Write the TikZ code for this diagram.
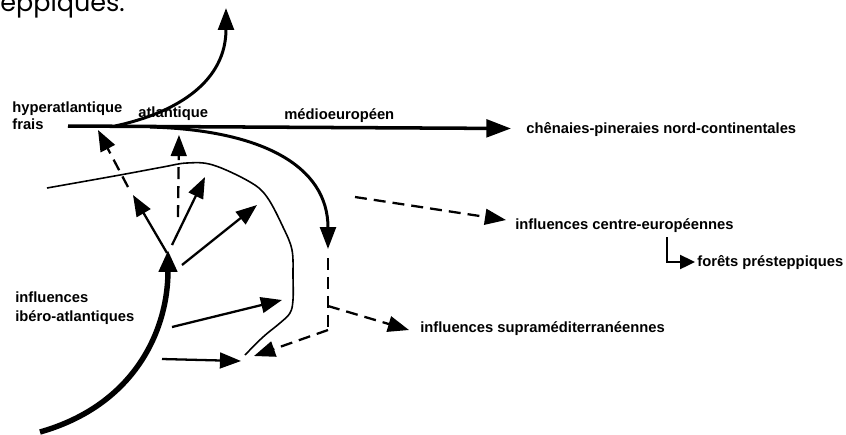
\documentclass[tikz,border=0pt]{standalone}
\usepackage{fontspec}
\setmainfont{Liberation Sans}
\newfontfamily\pagefont{Poppins}
\usetikzlibrary{arrows.meta}
\tikzset{
  lbl/.style      = {font=\fontsize{8.4}{9.6}\selectfont\bfseries, inner sep=0pt,
                     anchor=base west, align=left},
  mainflow/.style = {-{Triangle[length=14pt,width=10pt]}, line width=2pt},
  curvearr/.style = {-{Triangle[length=12.5pt,width=9pt]}, line width=1.7pt},
  iberoarr/.style = {-{Triangle[length=12.5pt,width=10pt]}, line width=3.1pt},
  pusharr/.style  = {-{Triangle[length=12pt,width=9pt]}, line width=1.3pt},
  dasharr/.style  = {pusharr, dash pattern=on 6.8pt off 4pt},
  dashline/.style = {line width=1.3pt, dash pattern=on 6.8pt off 4pt},
  coast/.style    = {line width=0.9pt},
}

\begin{document}
\begin{tikzpicture}[x=0.02cm, y=-0.02cm]
    \useasboundingbox (0,0) rectangle (846,434);

    % cut line of the page text above
    \node[inner sep=0pt, anchor=base west, font=\pagefont\fontsize{14.5}{15}\selectfont]
      (page) at (0,11) {eppiques.};

    % labels (base = last line)
    \node[lbl] (hyper)  at (12,129)  {hyperatlantique\\frais};
    \node[lbl] (atl)    at (138,117) {atlantique};
    \node[lbl] (medio)  at (284,119) {médioeuropéen};
    \node[lbl] (chen)   at (526,133) {chênaies-pineraies nord-continentales};
    \node[lbl] (centre) at (515,229) {influences centre-européennes};
    \node[lbl] (forets) at (697,266) {forêts présteppiques};
    \node[lbl] (supra)  at (420,332) {influences supraméditerranéennes};
    \node[lbl] (ibero)  at (15,321)  {influences\\[1.2pt]ibéro-atlantiques};

    % end points
    \coordinate (hs) at (68,126);   \coordinate (he) at (511,128.5);
    \coordinate (us) at (115,126);  \coordinate (ue) at (226,8);
    \coordinate (ds) at (150,127);  \coordinate (de) at (328,249);
    \coordinate (is) at (40,432);   \coordinate (ie) at (168,250);
    \coordinate (o1) at (167,253);  \coordinate (t1) at (133,195);
    \coordinate (o2) at (172,245);  \coordinate (t2) at (205,177);
    \coordinate (o3) at (182,265);  \coordinate (t3) at (257,205);
    \coordinate (o4) at (172,327);  \coordinate (t4) at (282,300);
    \coordinate (o5) at (162,359);  \coordinate (t5) at (241,361);
    \coordinate (p1) at (128,187);  \coordinate (q1) at (98,130);
    \coordinate (p2) at (178,217);  \coordinate (q2) at (179,135);
    \coordinate (p3) at (355,197);  \coordinate (q3) at (506,220);
    \coordinate (vt) at (328,258);  \coordinate (vk) at (328,306);
    \coordinate (vb) at (328,330);
    \coordinate (q4) at (409,330);  \coordinate (q5) at (254,356);
    \coordinate (ks) at (667,237);  \coordinate (ke) at (695,262);

    % coast line
    \draw[coast] plot[smooth, tension=0.6] coordinates {(47,188) (120,175) (163,167)
      (187,163) (213,165) (250,182) (267,197) (283,227) (292,250) (293,277)
      (293,300) (290,313) (280,323) (263,337) (245,355)};

    % main flows
    \draw[mainflow] (hs) -- (he);
    \draw[curvearr] (us) .. controls (180,112) and (226,80) .. (ue);
    \draw[curvearr] (ds) .. controls (260,130) and (328,165) .. (de);
    \draw[iberoarr] (is) .. controls (135,405) and (168,330) .. (ie);

    % spreading from the ibero arrow
    \foreach \src/\dst in {o1/t1, o2/t2, o3/t3, o4/t4, o5/t5}
      \draw[pusharr] (\src) -- (\dst);

    % weaker influences
    \foreach \src/\dst in {p1/q1, p2/q2, p3/q3, vk/q4, vb/q5}
      \draw[dasharr] (\src) -- (\dst);
    \draw[dashline] (vt) -- (vb);

    \draw[-{Triangle[length=8.5pt,width=8pt]}, line width=1.1pt] (ks) |- (ke);
\end{tikzpicture}
\end{document}
